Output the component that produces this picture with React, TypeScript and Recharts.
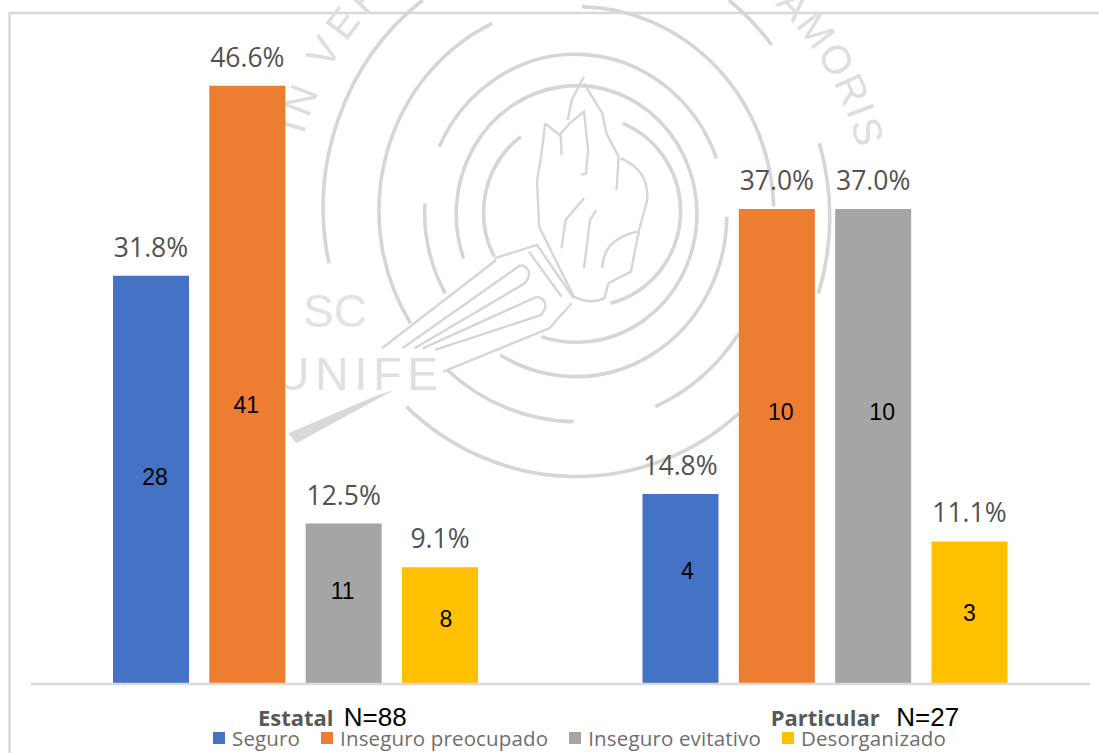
import React from 'react';
import { BarChart, Bar, XAxis, YAxis, Legend, LabelList } from 'recharts';

const categories = ['Estatal', 'Particular'];
const totals = [88, 27];

const seriesNames = ['Seguro', 'Inseguro preocupado', 'Inseguro evitativo', 'Desorganizado'];
const seriesColors = ['#4472C4', '#ED7D31', '#A5A5A5', '#FFC000'];

const seguroPct = [31.8, 14.8];
const preocupadoPct = [46.6, 37.0];
const evitativoPct = [12.5, 37.0];
const desorganizadoPct = [9.1, 11.1];

const seguroCount = [28, 4];
const preocupadoCount = [41, 10];
const evitativoCount = [11, 10];
const desorganizadoCount = [8, 3];

const pctBySeries = [seguroPct, preocupadoPct, evitativoPct, desorganizadoPct];
const countBySeries = [seguroCount, preocupadoCount, evitativoCount, desorganizadoCount];

// the counts were placed by hand in the original, not quite centred on the bars
const countShift = [
    [[4, -3], [7, -18]],
    [[-1, 20], [4, -34]],
    [[-1, -13], [9, -34]],
    [[6, -7], [0, 0]],
];
const totalLabelOffset = [48, 71];

const tableData = categories.map((category, i) => {
    const row: Record<string, string | number> = { category };
    seriesNames.forEach((name, s) => {
        row[name] = pctBySeries[s][i];
        row[`${name} n`] = countBySeries[s][i];
    });
    return row;
});

const GREY = '#d9d9d9';

const sealArcs = [
    'M350 0 A610 780 0 0 0 120 790',
    'M1100 0 A610 780 0 0 1 1205 135',
    'M1322 430 A610 780 0 0 1 1320 880',
    'M1125 1240 A610 780 0 0 1 310 1220',
    'M520 70 A480 620 0 0 0 320 970',
    'M740 20 A480 620 0 0 1 1210 620',
    'M1125 1000 A480 620 0 0 1 920 1220',
    'M410 1110 A480 620 0 0 0 720 1265',
    'M390 440 A370 485 0 0 1 1070 475',
    'M355 610 A370 485 0 0 0 405 880',
    'M1095 650 A370 485 0 0 1 540 1065',
    'M450 775 A295 385 0 1 1 640 1010',
    'M590 410 A228 285 0 0 0 525 770',
    'M840 370 A228 285 0 0 1 810 910',
];

const sealFlame = [
    'M650 370 L640 470 L630 540 L635 680 L720 890 Q760 915 795 895 L805 850 L860 815 L880 690 L900 600 Q905 510 835 475',
    'M650 370 L685 405 L710 370 L745 335 L755 450 L750 520 L738 525',
    'M690 465 L688 405',
    'M745 230 L715 300 L705 360',
    'M745 250 L790 340 L800 400 L830 470 L825 570',
    'M745 595 L700 660 L690 745',
    'M775 630 L760 660 L745 805',
    'M790 805 Q790 720 875 695',
    'M525 775 L630 735 L720 895',
    'M610 755 L690 890',
    'M530 780 L250 1045',
    'M715 910 L660 985 L400 1115',
    'M590 795 Q625 810 600 850 L330 1045',
    'M590 795 L300 1045',
    'M630 890 Q665 905 640 945 L380 1050',
    'M630 890 L350 1045',
];

const Seal = () => (
    <svg width={1099} height={753} style={{ position: 'absolute', left: 0, top: 0 }}>
        <path d="M9.5 753 L9.5 13 L1099 13" fill="none" stroke={GREY} strokeWidth={2.5} />
        <g transform="translate(280 0) scale(0.408 0.3333)" fill="none" stroke="#d6d6d6">
            {sealArcs.map((d) => (
                <path key={d} d={d} strokeWidth={3.6} vectorEffect="non-scaling-stroke" />
            ))}
            {sealFlame.map((d) => (
                <path key={d} d={d} strokeWidth={2.4} vectorEffect="non-scaling-stroke" />
            ))}
            <path d="M240 1185 L20 1300 L40 1330 L280 1170 Z" fill={GREY} stroke="none" />
        </g>
        <defs>
            <path id="sealLeft" d="M304 135 A272 290 0 0 1 578 -77" />
            <path id="sealRight" d="M690 -50 A272 290 0 0 1 858 150" />
        </defs>
        <g fontFamily="Liberation Sans" fill="#dedede">
            <text fontSize={40} letterSpacing={6}>
                <textPath href="#sealLeft">IN VERITATE</textPath>
            </text>
            <text fontSize={40} letterSpacing={2} textAnchor="end">
                <textPath href="#sealRight" startOffset="100%">AMORIS</textPath>
            </text>
            <text x={303} y={327} fontSize={46} fill="#e3e3e3">SC</text>
            <text x={276} y={390} fontSize={46} letterSpacing={6} fill="#e0e0e0">UNIFE</text>
        </g>
    </svg>
);

const CategoryTick = ({ x, y, payload, index }: any) => (
    <g>
        <text x={x} y={y + 34} textAnchor="middle" fontFamily="Open Sans" fontWeight={700} fontSize={22} fill="#595959">
            {payload.value}
        </text>
        <text x={x + totalLabelOffset[index]} y={y + 34} fontFamily="Liberation Sans" fontSize={26} fill="#000">
            {`N=${totals[index]}`}
        </text>
    </g>
);

const renderCount = (s: number) => (props: any) => {
    const { x, y, width, height, value, index } = props;
    const [dx, dy] = countShift[s][index];
    return (
        <text
            x={x + width / 2 + dx}
            y={y + height / 2 + dy}
            textAnchor="middle"
            dominantBaseline="central"
            fontFamily="Liberation Sans"
            fontSize={23}
            fill="#000"
        >
            {value}
        </text>
    );
};

const LegendRow = () => (
    <div style={{ display: 'flex', fontFamily: 'Open Sans', fontSize: 20.5, lineHeight: '24px', color: '#6e6e6e', letterSpacing: 0.15 }}>
        {seriesNames.map((name, s) => (
            <div key={name} style={{ display: 'flex', alignItems: 'center', marginRight: 21, whiteSpace: 'nowrap' }}>
                <span style={{ width: 12, height: 12, marginRight: 7, background: seriesColors[s] }} />
                {name}
            </div>
        ))}
    </div>
);

export default function App() {
    return (
        <div style={{ position: 'absolute', left: 0, top: 0, width: 1099, height: 753, overflow: 'hidden', background: '#fff' }}>
            <Seal />
            <div style={{ position: 'absolute', left: 0, top: 0 }}>
                <BarChart
                    width={1099}
                    height={753}
                    data={tableData}
                    barSize={76}
                    barGap={20.33}
                    margin={{ top: 42, right: 9, left: 31, bottom: 0 }}
                >
                    <XAxis
                        dataKey="category"
                        height={44}
                        interval={0}
                        tickLine={false}
                        axisLine={{ stroke: GREY, strokeWidth: 2.5 }}
                        tick={<CategoryTick />}
                    />
                    <YAxis hide domain={[0, 50]} />
                    <Legend
                        verticalAlign="bottom"
                        align="left"
                        height={25}
                        content={<LegendRow />}
                        wrapperStyle={{ left: 213, bottom: 2, width: 860 }}
                    />
                    {seriesNames.map((name, s) => (
                        <Bar key={name} dataKey={name} fill={seriesColors[s]} isAnimationActive={false}>
                            <LabelList
                                dataKey={name}
                                position="top"
                                offset={19}
                                formatter={(v: number) => `${v.toFixed(1)}%`}
                                style={{ fontFamily: 'Open Sans', fontSize: 26.5, fill: '#525252' }}
                            />
                            <LabelList dataKey={`${name} n`} content={renderCount(s)} />
                        </Bar>
                    ))}
                </BarChart>
            </div>
        </div>
    );
}
